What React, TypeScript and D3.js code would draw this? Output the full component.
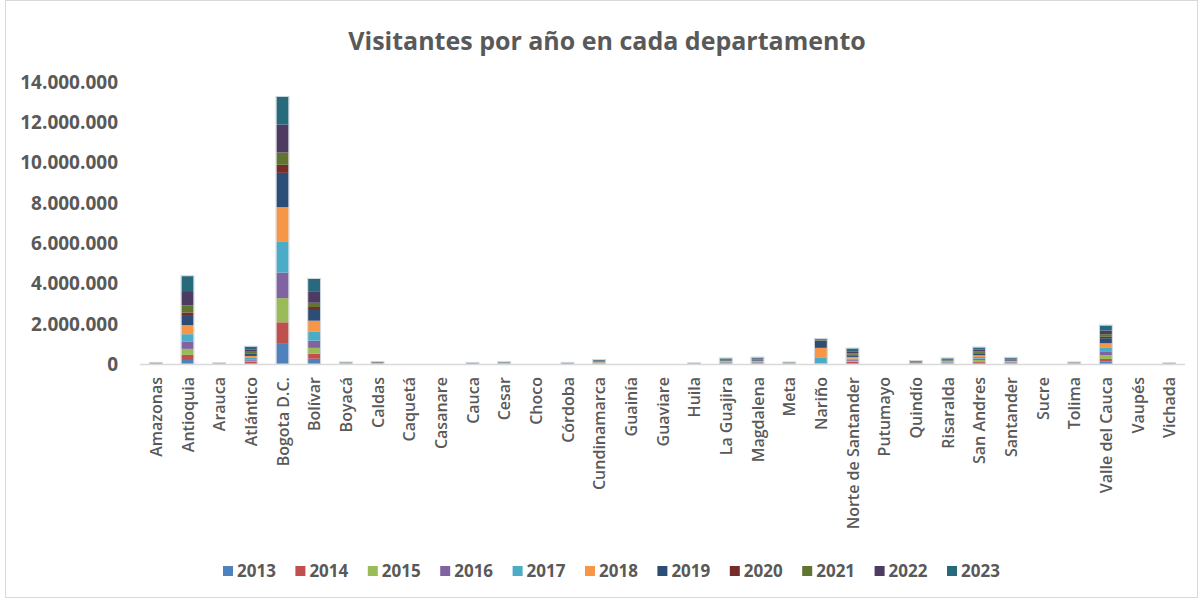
import React from "react";
import * as d3 from "d3";

// Values in thousands of visitors
const UNIT = 1000;

const categories = [
  "Amazonas", "Antioquia", "Arauca", "Atlántico", "Bogota D.C.", "Bolívar", "Boyacá", "Caldas",
  "Caquetá", "Casanare", "Cauca", "Cesar", "Choco", "Córdoba", "Cundinamarca", "Guainía",
  "Guaviare", "Huila", "La Guajira", "Magdalena", "Meta", "Nariño", "Norte de Santander",
  "Putumayo", "Quindío", "Risaralda", "San Andres", "Santander", "Sucre", "Tolima",
  "Valle del Cauca", "Vaupés", "Vichada",
];

const years = ["2013", "2014", "2015", "2016", "2017", "2018", "2019", "2020", "2021", "2022", "2023"];

const v2013 = [5, 200, 3, 50, 1000, 260, 6, 8, 0, 0, 4, 7, 0, 4, 14, 0, 0, 3, 20, 22, 6, 12, 50, 0, 10, 20, 60, 22, 0, 6, 120, 0, 3];
const v2014 = [5, 250, 3, 50, 1070, 260, 6, 8, 0, 0, 4, 7, 0, 4, 15, 0, 0, 3, 22, 24, 6, 12, 60, 0, 11, 21, 70, 23, 0, 6, 130, 0, 3];
const v2015 = [5, 300, 3, 60, 1200, 280, 7, 9, 0, 0, 5, 8, 0, 5, 16, 0, 0, 3, 24, 26, 7, 13, 50, 0, 12, 22, 70, 25, 0, 7, 180, 0, 3];
const v2016 = [5, 350, 4, 70, 1270, 360, 7, 10, 0, 0, 5, 8, 0, 5, 17, 0, 0, 3, 25, 28, 7, 14, 50, 0, 13, 24, 70, 27, 0, 7, 200, 0, 3];
const v2017 = [6, 380, 4, 70, 1520, 460, 8, 10, 0, 0, 6, 9, 0, 6, 18, 0, 0, 4, 27, 30, 8, 250, 60, 0, 14, 26, 80, 28, 0, 8, 200, 0, 4];
const v2018 = [6, 450, 4, 100, 1730, 530, 8, 11, 0, 0, 6, 9, 0, 6, 20, 0, 0, 4, 28, 34, 8, 500, 80, 0, 15, 27, 80, 30, 0, 8, 200, 0, 4];
const v2019 = [7, 500, 4, 100, 1700, 530, 9, 12, 0, 0, 7, 9, 0, 7, 22, 0, 0, 4, 30, 36, 9, 360, 80, 0, 16, 28, 90, 32, 0, 9, 250, 0, 4];
const v2020 = [3, 130, 2, 30, 400, 150, 3, 5, 0, 0, 2, 3, 0, 2, 8, 0, 0, 2, 10, 12, 3, 10, 30, 0, 6, 10, 30, 12, 0, 3, 70, 0, 2];
const v2021 = [5, 350, 3, 80, 610, 210, 7, 9, 0, 0, 5, 8, 0, 5, 18, 0, 0, 4, 25, 28, 7, 20, 70, 0, 14, 25, 70, 28, 0, 7, 130, 0, 4];
const v2022 = [6, 710, 4, 120, 1390, 540, 9, 11, 0, 0, 6, 10, 0, 7, 24, 0, 0, 4, 32, 38, 9, 25, 100, 0, 18, 35, 100, 38, 0, 9, 180, 0, 4];
const v2023 = [7, 740, 5, 130, 1370, 640, 10, 12, 0, 0, 7, 11, 0, 8, 28, 0, 0, 5, 35, 42, 10, 30, 140, 0, 21, 42, 100, 45, 0, 10, 250, 0, 5];

const seriesValues = [v2013, v2014, v2015, v2016, v2017, v2018, v2019, v2020, v2021, v2022, v2023];

const colors = [
  "#4F81BD", "#C0504D", "#9BBB59", "#8064A2", "#4BACC6", "#F79646",
  "#2C4D75", "#772C2A", "#5F7530", "#4D3B62", "#276A7C",
];

const yTicks = [0, 2000000, 4000000, 6000000, 8000000, 10000000, 12000000, 14000000];

const title = "Visitantes por año en cada departamento";

const W = 1203;
const H = 599;
const FONT = "'Open Sans', 'DejaVu Sans', sans-serif";
const TEXT = "#595959";

export default function App() {
  const rows = categories.map((c, i) => {
    const r: Record<string, any> = { cat: c };
    years.forEach((y, j) => {
      r[y] = seriesValues[j][i] * UNIT;
    });
    return r;
  });
  const stacked = d3.stack<any>().keys(years)(rows);

  const x = d3
    .scaleBand<string>()
    .domain(categories)
    .range([140, 1185])
    .paddingInner(0.62)
    .paddingOuter(0.31);
  const y = d3.scaleLinear().domain([0, 14000000]).range([364, 82]);

  const loc = d3.formatLocale({ decimal: ",", thousands: ".", grouping: [3], currency: ["$", ""] });
  const fmt = loc.format(",d");

  const legendX0 = 223;
  const legendStep = 72.4;

  return (
    <svg
      width={W}
      height={H}
      style={{ position: "absolute", left: 0, top: 0, background: "#fff" }}
      fontFamily={FONT}
    >
      <rect x={0} y={0} width={W} height={H} fill="#fff" />
      <rect x={5.5} y={0.5} width={1192} height={597} fill="none" stroke="#d9d9d9" />
      <text x={607} y={50} textAnchor="middle" fontSize={25} fontWeight={700} fill={TEXT}>
        {title}
      </text>

      {yTicks.map((t) => (
        <text
          key={t}
          x={118}
          y={y(t)}
          dy="0.36em"
          textAnchor="end"
          fontSize={19}
          fontWeight={700}
          fill={TEXT}
        >
          {fmt(t)}
        </text>
      ))}

      {stacked.map((s, si) => (
        <g key={s.key} fill={colors[si]}>
          {s.map((d: any, i: number) => {
            const h = y(d[0]) - y(d[1]);
            if (h <= 0) return null;
            return (
              <rect
                key={i}
                x={x(categories[i])}
                y={y(d[1])}
                width={x.bandwidth()}
                height={h}
              />
            );
          })}
        </g>
      ))}

      {categories.map((c, i) => {
        const top = stacked[stacked.length - 1][i][1];
        if (top <= 0) return null;
        return (
          <rect
            key={c}
            x={(x(c) as number) - 0.5}
            y={y(top) - 0.5}
            width={x.bandwidth() + 1}
            height={y(0) - y(top) + 0.5}
            fill="none"
            stroke="#c5ced8"
            strokeWidth={0.8}
          />
        );
      })}

      <line x1={140} x2={1185} y1={364.5} y2={364.5} stroke="#d9d9d9" strokeWidth={1.5} />

      {categories.map((c) => {
        const cx = (x(c) as number) + x.bandwidth() / 2;
        return (
          <text
            key={c}
            transform={`translate(${cx + 6},377) rotate(-90)`}
            textAnchor="end"
            fontSize={16}
            fontWeight={600}
            fill={TEXT}
          >
            {c}
          </text>
        );
      })}

      {years.map((yr, i) => {
        const lx = legendX0 + i * legendStep;
        return (
          <g key={yr}>
            <rect x={lx} y={566} width={10} height={10} fill={colors[i]} />
            <text x={lx + 14} y={577} fontSize={17} fontWeight={700} fill={TEXT}>
              {yr}
            </text>
          </g>
        );
      })}
    </svg>
  );
}
